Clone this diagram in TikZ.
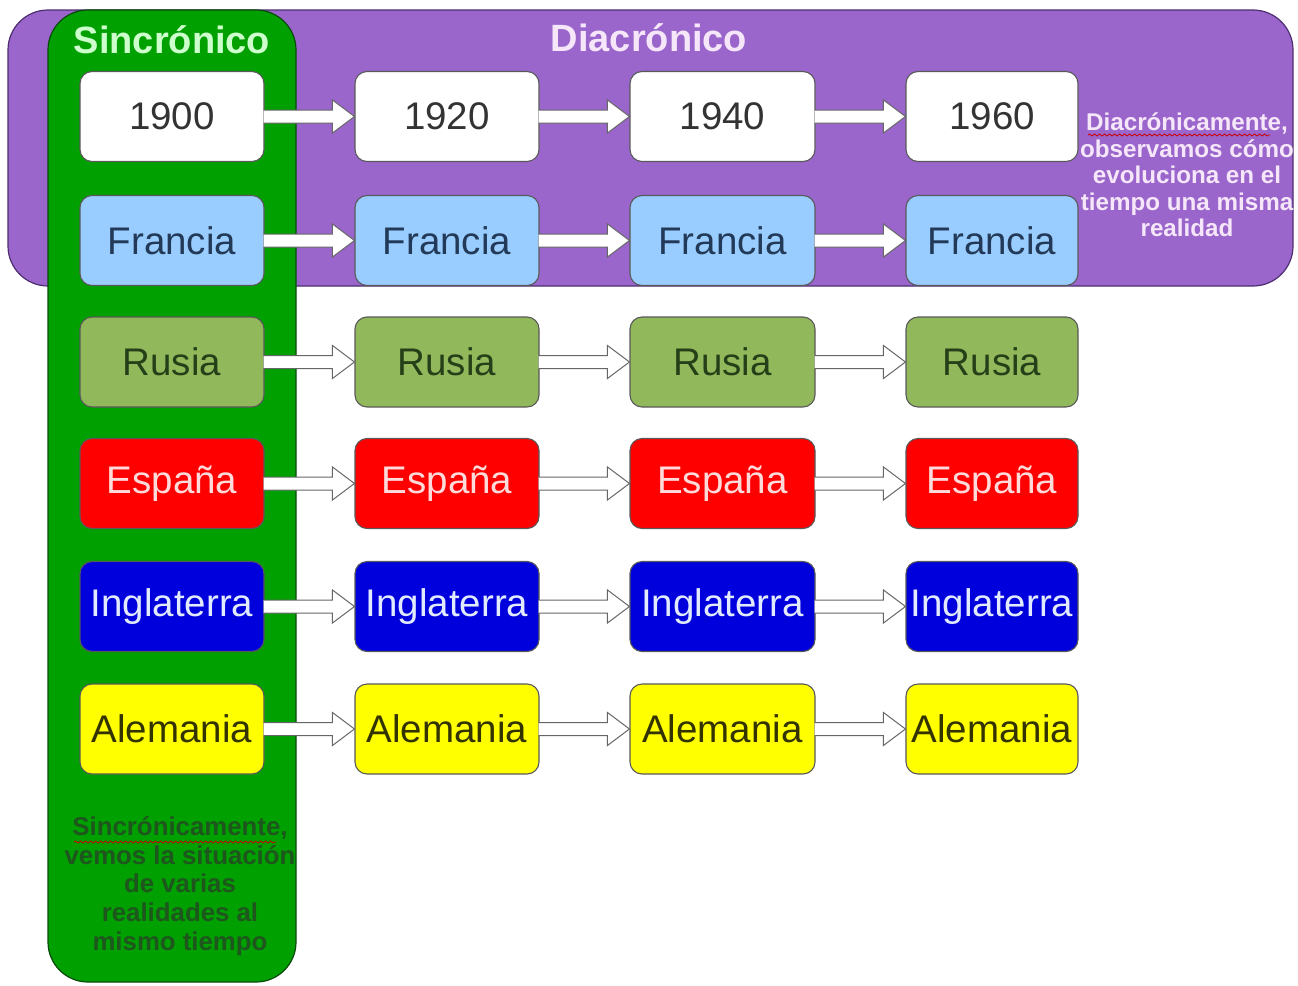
\documentclass[tikz,border=0pt]{standalone}
\usepackage{fontspec}
\setmainfont{Liberation Sans}
\usetikzlibrary{calc,decorations.pathmorphing}
\definecolor{purp}{HTML}{9A66CB}
\definecolor{purpdark}{HTML}{4E2E70}
\definecolor{grn}{HTML}{00A000}
\definecolor{grndark}{HTML}{0A4A0A}
\definecolor{ltblue}{HTML}{99CCFF}
\definecolor{olive}{HTML}{92B85C}
\definecolor{redf}{HTML}{FF0000}
\definecolor{bluef}{HTML}{0000DD}
\definecolor{yelf}{HTML}{FFFF00}
\definecolor{tgray}{HTML}{333333}
\definecolor{tnavy}{HTML}{223A58}
\definecolor{tolive}{HTML}{254018}
\definecolor{tpink}{HTML}{FFDADA}
\definecolor{tlblue}{HTML}{E2EAFF}
\definecolor{tdyel}{HTML}{333300}
\definecolor{tsinc}{HTML}{CCFFCC}
\definecolor{tdiac}{HTML}{F6E6FA}
\definecolor{tbot}{HTML}{1E561E}
\begin{document}
\begin{tikzpicture}[x=1pt,y=-1pt,
  cbox/.style={rounded corners=12pt,minimum height=90pt,inner sep=0pt,draw=black!65,line width=1.1pt,font=\fontsize{38.5}{44}\selectfont},
  barrow/.style={fill=white,draw=black!60,line width=1pt,line join=miter},
  wavy/.style={draw=red!80!black,line width=0.8pt,decorate,decoration={snake,segment length=5pt,amplitude=1pt}}]
\useasboundingbox (0,0) rectangle (1298,985);
\fill[white] (0,0) rectangle (1298,985);
% background panels
\draw[fill=purp,draw=purpdark,line width=1.2pt,rounded corners=40pt] (8,10) rectangle (1293,286);
\draw[fill=grn,draw=grndark,line width=1.2pt,rounded corners=40pt] (48,10) rectangle (296,982);
\node[font=\fontsize{38}{44}\selectfont\bfseries,text=tsinc] (tsin) at (172,40) {Sincrónico};
\node[font=\fontsize{38}{44}\selectfont\bfseries,text=tdiac] (tdia) at (649,38) {Diacrónico};
% boxes
\foreach \c/\x/\w in {1/172/184,2/447/184,3/722.5/185,4/992/172}{
  \node[cbox,minimum width=\w pt,fill=white,text=tgray] (y\c) at (\x,116.5) {};
  \node[cbox,minimum width=\w pt,fill=ltblue,text=tnavy] (f\c) at (\x,240.5) {Francia};
  \node[cbox,minimum width=\w pt,fill=olive,text=tolive] (r\c) at (\x,362) {Rusia};
  \node[cbox,minimum width=\w pt,fill=redf,text=tpink] (e\c) at (\x,483.5) {España};
  \node[cbox,minimum width=\w pt,fill=bluef,text=tlblue] (i\c) at (\x,606.5) {Inglaterra};
  \node[cbox,minimum width=\w pt,fill=yelf,text=tdyel] (a\c) at (\x,729) {Alemania};
}
\node[font=\fontsize{38.5}{44}\selectfont,text=tgray] at (y1) {1900};
\node[font=\fontsize{38.5}{44}\selectfont,text=tgray] at (y2) {1920};
\node[font=\fontsize{38.5}{44}\selectfont,text=tgray] at (y3) {1940};
\node[font=\fontsize{38.5}{44}\selectfont,text=tgray] at (y4) {1960};
% arrows
\foreach \r in {y,f,r,e,i,a}{
  \foreach \p/\n in {1/2,2/3,3/4}{
    \draw[barrow] ($(\r\p.east)+(-1,-6.5)$) -- ($(\r\n.west)+(-22,-6.5)$) -- ($(\r\n.west)+(-22,-16.5)$) -- (\r\n.west) -- ($(\r\n.west)+(-22,16.5)$) -- ($(\r\n.west)+(-22,6.5)$) -- ($(\r\p.east)+(-1,6.5)$);
  }
}
% side texts
\node[font=\fontsize{24.2}{26.5}\selectfont\bfseries,text=tdiac,align=center,inner sep=0pt] (dtxt) at (1187,175)
  {Diacrónicamente,\\observamos cómo\\evoluciona en el\\tiempo una misma\\realidad};
\draw[wavy] (1088,135) -- (1270,135);
\node[font=\fontsize{25.8}{28.7}\selectfont\bfseries,text=tbot,align=center,inner sep=0pt] (stxt) at (180,886)
  {Sincrónicamente,\\vemos la situación\\de varias\\realidades al\\mismo tiempo};
\draw[wavy] (74,842) -- (276,842);
\end{tikzpicture}
\end{document}
